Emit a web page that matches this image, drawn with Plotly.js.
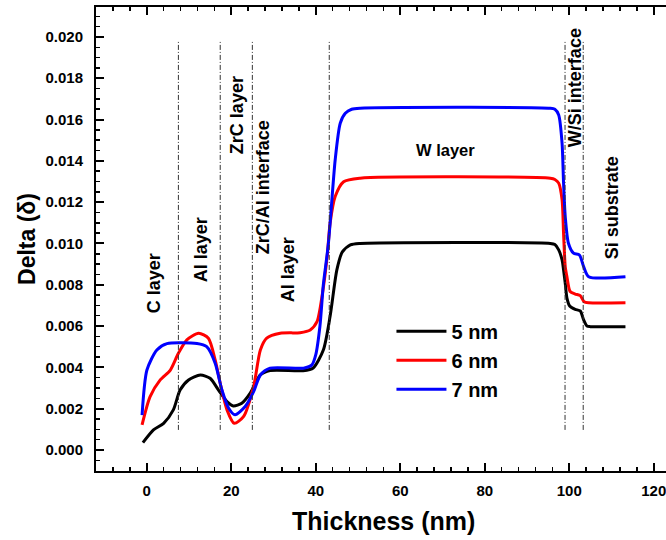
<!DOCTYPE html>
<html>
<head>
<meta charset="utf-8">
<script src="https://cdn.plot.ly/plotly-3.0.1.min.js"></script>
<style>html,body{margin:0;padding:0;background:#fff;overflow:hidden;}#chart{width:720px;height:540px;}</style>
</head>
<body>
<div id="chart"></div>
<script>
// ---- data ----
const seriesNames = ["5 nm", "6 nm", "7 nm"];

const x5 = [-0.9, 1.6, 4.0, 6.3, 7.9, 9.9, 12.7, 15.0, 17.0, 19.0, 20.5, 22.5, 24.5, 26.9, 29.2, 37.0, 39.4, 41.8, 43.4, 45.0, 46.3, 48.2, 50.5, 95.5, 96.6, 97.5, 98.3, 98.65, 99.05, 99.45, 100.1, 101.4, 102.6, 103.4, 104.2, 105.0, 113.3];
const y5 = [0.00035, 0.00097, 0.00129, 0.00194, 0.00290, 0.00339, 0.00363, 0.00347, 0.00290, 0.00234, 0.00213, 0.00226, 0.00275, 0.00363, 0.00384, 0.00384, 0.00397, 0.00484, 0.00647, 0.00872, 0.00959, 0.00993, 0.01000, 0.01000, 0.00995, 0.00969, 0.00920, 0.00872, 0.00807, 0.00735, 0.00697, 0.00681, 0.00673, 0.00630, 0.00600, 0.00597, 0.00597];

const x6 = [-1.1, 0.8, 3.2, 5.6, 7.5, 9.5, 12.3, 14.6, 16.2, 17.4, 19.0, 20.7, 22.9, 25.3, 26.9, 28.4, 31.6, 36.3, 38.7, 40.3, 41.6, 42.7, 43.4, 44.6, 46.6, 50.5, 95.5, 96.6, 97.5, 98.3, 98.65, 99.05, 99.45, 100.2, 101.4, 102.6, 103.5, 104.6, 113.3];
const y6 = [0.00121, 0.00258, 0.00339, 0.00387, 0.00468, 0.00533, 0.00565, 0.00541, 0.00436, 0.00323, 0.00194, 0.00129, 0.00161, 0.00307, 0.00484, 0.00541, 0.00565, 0.00568, 0.00581, 0.00621, 0.00759, 0.00936, 0.01098, 0.01227, 0.01299, 0.01316, 0.01316, 0.01310, 0.01292, 0.01211, 0.01049, 0.00888, 0.00839, 0.00767, 0.00755, 0.00747, 0.00718, 0.00713, 0.00713];

const x7 = [-1.1, 0.05, 2.4, 4.8, 11.9, 14.2, 16.2, 17.8, 19.4, 20.9, 23.3, 25.3, 26.9, 29.2, 37.1, 39.1, 40.0, 41.0, 41.8, 43.0, 44.6, 45.8, 47.0, 48.5, 50.5, 95.5, 96.6, 97.5, 98.3, 98.65, 99.05, 99.8, 101.0, 102.4, 103.4, 104.6, 113.3];
const y7 = [0.00169, 0.00387, 0.00484, 0.00515, 0.00515, 0.00500, 0.00420, 0.00290, 0.00202, 0.00170, 0.00210, 0.00282, 0.00363, 0.00396, 0.00396, 0.00412, 0.00460, 0.00600, 0.00800, 0.01000, 0.01404, 0.01582, 0.01630, 0.01650, 0.01655, 0.01655, 0.01650, 0.01622, 0.01485, 0.01292, 0.01130, 0.01001, 0.00953, 0.00944, 0.00888, 0.00839, 0.00839];

const colors = ["#000000", "#ff0000", "#0000ff"];

// layer boundaries (nm)
const boundaries = [7.5, 17.4, 25.0, 43.2, 99.0, 103.3];

// region labels
const labelTexts = ["C layer", "Al layer", "ZrC layer", "ZrC/Al interface", "Al layer", "W layer", "W/Si interface", "Si substrate"];
const labelX = [1.8, 12.7, 21.4, 27.6, 33.3, 70.6, 101.4, 110.2];
const labelY = [0.00809, 0.00969, 0.01622, 0.01274, 0.00872, 0.01453, 0.01753, 0.01172];
const labelAngle = [-90, -90, -90, -90, -90, 0, -90, -90];
const labelSize = [18, 18, 18, 18, 18, 16.5, 18, 18];

// ---- figure ----
const FONT = "Liberation Sans, Arial, sans-serif";
const xs = [x5, x6, x7], ys = [y5, y6, y7];
const traces = seriesNames.map((n, i) => ({
  x: xs[i], y: ys[i], name: n, type: "scatter", mode: "lines",
  line: {color: colors[i], width: 3, shape: "spline", smoothing: 0.7}
}));

const shapes = boundaries.map(b => ({
  type: "line", xref: "x", yref: "y", x0: b, x1: b, y0: 0.00097, y1: 0.0198,
  line: {color: "#333", width: 1, dash: "5px,2px,1px,2px"}
}));

const annotations = labelTexts.map((t, i) => ({
  text: "<b>" + t + "</b>", x: labelX[i], y: labelY[i], xref: "x", yref: "y",
  showarrow: false, textangle: labelAngle[i],
  font: {family: FONT, size: labelSize[i], color: "#000"}
}));
// x-axis title as centred annotation (plot area extends off-screen)
annotations.push({
  text: "<b>Thickness (nm)</b>", xref: "paper", yref: "paper",
  x: (383 - 96) / (718 - 96), y: -0.108, xanchor: "center", yanchor: "middle",
  showarrow: false, font: {family: FONT, size: 25, color: "#000"}
});

const layout = {
  width: 720, height: 540,
  margin: {l: 96, r: 2, t: 7, b: 69},
  paper_bgcolor: "#fff", plot_bgcolor: "#fff",
  font: {family: FONT, color: "#000"},
  showlegend: true,
  legend: {
    x: 0.475, y: 0.343, xanchor: "left", yanchor: "top",
    bgcolor: "rgba(0,0,0,0)", font: {family: FONT, size: 20, color: "#000", weight: "bold"},
    itemwidth: 50, tracegroupgap: 0
  },
  xaxis: {
    range: [-12, 135.2], showgrid: false, zeroline: false,
    showline: true, linecolor: "#000", linewidth: 2, mirror: "allticks",
    ticks: "inside", ticklen: 8, tickwidth: 2, tickcolor: "#000",
    dtick: 20, tick0: 0,
    minor: {ticks: "inside", ticklen: 4, tickwidth: 1.5, tickcolor: "#000", dtick: 4, showgrid: false},
    tickfont: {family: FONT, size: 15, weight: "bold"},
    ticklabelstandoff: 5
  },
  yaxis: {
    range: [-0.00102, 0.02145], showgrid: false, zeroline: false,
    showline: true, linecolor: "#000", linewidth: 2, mirror: false,
    ticks: "inside", ticklen: 8, tickwidth: 2, tickcolor: "#000",
    dtick: 0.002, tick0: 0, tickformat: ".3f",
    minor: {ticks: "inside", ticklen: 4, tickwidth: 1.5, tickcolor: "#000", dtick: 0.0005, showgrid: false},
    tickfont: {family: FONT, size: 15, weight: "bold"},
    ticklabelstandoff: 8,
    title: {text: "<b>Delta (δ)</b>", font: {family: FONT, size: 23}, standoff: 3}
  },
  shapes: shapes,
  annotations: annotations
};

Plotly.newPlot("chart", traces, layout, {displayModeBar: false, staticPlot: true});
</script>
</body>
</html>
